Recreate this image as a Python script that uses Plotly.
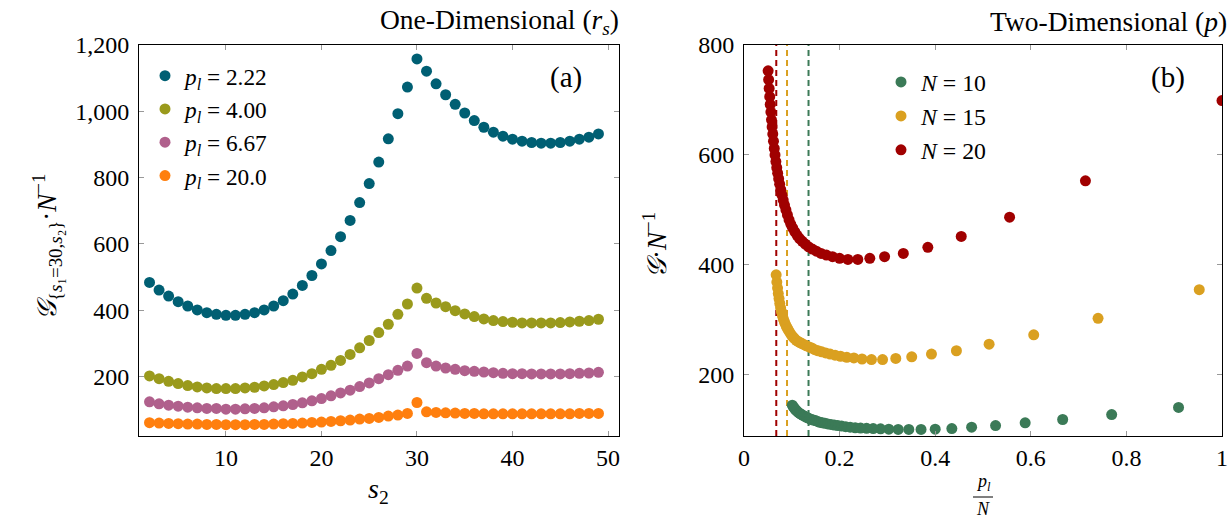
import plotly.graph_objects as go

W, H = 1232, 519
FONT = "Liberation Serif"

# ---------------- Panel (a) data ----------------
s2 = [2, 3, 4, 5, 6, 7, 8, 9, 10, 11, 12, 13, 14, 15, 16, 17, 18, 19, 20, 21, 22, 23, 24, 25,
      26, 27, 28, 29, 30, 31, 32, 33, 34, 35, 36, 37, 38, 39, 40, 41, 42, 43, 44, 45, 46, 47, 48, 49]

g_p222 = [484, 461, 443, 426, 413, 401, 393, 388, 385, 385, 388, 393, 401, 413, 429, 449, 475, 505,
          540, 580, 622, 671, 725, 782, 847, 917, 993, 1073, 1158, 1121, 1083, 1050, 1021, 995, 972,
          952, 937, 925, 916, 910, 906, 904, 904, 906, 910, 916, 922, 932]
g_p400 = [202, 194, 186, 179, 173, 169, 166, 164, 164, 164, 166, 168, 172, 176, 182, 189, 199, 209,
          222, 234, 249, 267, 287, 309, 333, 358, 388, 419, 467, 436, 422, 411, 399, 389, 381, 374,
          369, 366, 364, 362, 362, 362, 362, 363, 365, 367, 369, 373]
g_p667 = [124, 118, 114, 111, 108, 106, 104, 104, 102, 102, 103, 104, 106, 109, 112, 116, 121, 127,
          134, 142, 151, 159, 170, 181, 194, 206, 219, 232, 270, 242, 232, 226, 222, 218, 216, 214,
          212, 210, 209, 209, 208, 208, 208, 208, 209, 210, 211, 213]
g_p200 = [61, 60, 59, 58, 57, 57, 56, 56, 55, 55, 55, 56, 56, 57, 58, 59, 60, 62, 63, 65, 67, 69,
          72, 74, 77, 81, 84, 89, 122, 94, 92, 91, 90, 89, 89, 88, 88, 88, 88, 88, 88, 88, 88, 88,
          88, 89, 89, 89]

series_a = [
    ("<i>p<sub>l</sub></i> = 2.22", g_p222, "#005f73"),
    ("<i>p<sub>l</sub></i> = 4.00", g_p400, "#9a9a1c"),
    ("<i>p<sub>l</sub></i> = 6.67", g_p667, "#b0608c"),
    ("<i>p<sub>l</sub></i> = 20.0", g_p200, "#ff7f0e"),
]

# ---------------- Panel (b) data ----------------
x_n10 = [0.9091, 0.7692, 0.6667, 0.5882, 0.5263, 0.4762, 0.4348, 0.4000, 0.3704, 0.3448, 0.3226,
         0.3030, 0.2857, 0.2703, 0.2564, 0.2439, 0.2326, 0.2222, 0.2128, 0.2041, 0.1961, 0.1887,
         0.1818, 0.1754, 0.1695, 0.1639, 0.1587, 0.1538, 0.1493, 0.1449, 0.1408, 0.1370, 0.1333,
         0.1299, 0.1266, 0.1235, 0.1205, 0.1176, 0.1149, 0.1124, 0.1099, 0.1075, 0.1053, 0.1031,
         0.1010]
y_n10 = [141, 128, 119, 113, 108, 105, 102.5, 101.5, 101, 101, 101, 101.5, 102, 102.5, 103, 103.5,
         104, 105, 106, 107, 108, 109, 110, 111, 112, 113, 114, 115.5, 117, 118, 119, 120.5, 122,
         123.5, 125, 126.5, 128, 129.5, 131, 133, 135, 137, 139.5, 142, 145]

x_n15 = [0.9524, 0.7407, 0.6061, 0.5128, 0.4444, 0.3922, 0.3509, 0.3175, 0.2899, 0.2667, 0.2469,
         0.2299, 0.2151, 0.2020, 0.1905, 0.1802, 0.1709, 0.1626, 0.1550, 0.1481, 0.1418, 0.1361,
         0.1307, 0.1258, 0.1212, 0.1170, 0.1130, 0.1093, 0.1058, 0.1026, 0.0995, 0.0966, 0.0939,
         0.0913, 0.0889, 0.0866, 0.0844, 0.0823, 0.0803, 0.0784, 0.0766, 0.0749, 0.0733, 0.0717,
         0.0702, 0.0687, 0.0673]
y_n15 = [355, 303, 273, 256, 244, 238, 233, 230, 228, 228, 229, 231, 232, 234, 236, 238, 240, 242,
         244, 246, 249, 251, 253, 255, 257, 259, 261, 263, 266, 269, 272, 276, 280, 284, 288, 292,
         297, 302, 308, 315, 322, 330, 339, 348, 358, 369, 382]

x_n20 = [1.0000, 0.7143, 0.5556, 0.4545, 0.3846, 0.3333, 0.2941, 0.2632, 0.2381, 0.2174, 0.2000,
         0.1852, 0.1724, 0.1613, 0.1515, 0.1429, 0.1351, 0.1282, 0.1220, 0.1163, 0.1111, 0.1064,
         0.1020, 0.0980, 0.0943, 0.0909, 0.0877, 0.0847, 0.0820, 0.0794, 0.0769, 0.0746, 0.0725,
         0.0704, 0.0685, 0.0667, 0.0649, 0.0633, 0.0617, 0.0602, 0.0588, 0.0575, 0.0562, 0.0549,
         0.0538, 0.0526, 0.0515, 0.0505]
y_n20 = [699, 553, 487, 452, 432, 421, 415, 412, 410, 410, 412, 415, 418, 421, 425, 429, 433, 438,
         443, 448, 454, 460, 467, 474, 482, 491, 500, 509, 518, 527, 537, 547, 557, 567, 577, 588,
         600, 612, 625, 638, 651, 664, 678, 692, 706, 721, 737, 753]

crit_x = [0.135, 0.09, 0.0675]  # dashed reference lines for N = 10, 15, 20

series_b = [
    ("<i>N</i> = 10", x_n10, y_n10, "#3b7a57"),
    ("<i>N</i> = 15", x_n15, y_n15, "#daa020"),
    ("<i>N</i> = 20", x_n20, y_n20, "#a00000"),
]


def px(x):
    return x / W


def py(y):
    return 1 - y / H


fig = go.Figure()

for name, vals, col in series_a:
    fig.add_trace(go.Scatter(x=s2, y=vals, mode="markers", name=name,
                             marker=dict(size=11, color=col), xaxis="x", yaxis="y",
                             legend="legend"))

for name, xs, ys, col in series_b:
    fig.add_trace(go.Scatter(x=xs, y=ys, mode="markers", name=name,
                             marker=dict(size=11, color=col), xaxis="x2", yaxis="y2",
                             legend="legend2"))

for cx, (_, _, _, col) in zip(crit_x, series_b):
    fig.add_shape(type="line", xref="x2", yref="y2 domain", x0=cx, x1=cx, y0=0, y1=1,
                  line=dict(color=col, width=2, dash="6px,4px"), layer="below")

axis_common = dict(showline=True, linecolor="black", linewidth=1, mirror="all",
                   ticks="inside", ticklen=5, tickcolor="#999999", showgrid=False,
                   zeroline=False, automargin=False,
                   tickfont=dict(family=FONT, size=24, color="black"))

y_dom = [py(436), py(45)]
fig.update_layout(
    width=W, height=H, margin=dict(l=0, r=0, t=0, b=0, pad=0, autoexpand=False),
    plot_bgcolor="white", paper_bgcolor="white",
    font=dict(family=FONT, color="black"),
    xaxis=dict(domain=[px(139), px(619)], range=[0.9, 51.15],
               tickvals=[10, 20, 30, 40, 50], anchor="y", **axis_common),
    yaxis=dict(domain=y_dom, range=[21, 1200], tickvals=[200, 400, 600, 800, 1000, 1200],
               tickformat=",d", anchor="x", ticklabelstandoff=4, **axis_common),
    xaxis2=dict(domain=[px(744), px(1222)], range=[0, 1],
                tickvals=[0, 0.2, 0.4, 0.6, 0.8, 1], ticktext=["0", "0.2", "0.4", "0.6", "0.8", "1"],
                anchor="y2", **axis_common),
    yaxis2=dict(domain=y_dom, range=[89, 800], tickvals=[200, 400, 600, 800],
                anchor="x2", ticklabelstandoff=4, **axis_common),
    legend=dict(x=px(145), y=py(54), xanchor="left", yanchor="top",
                bgcolor="rgba(0,0,0,0)", font=dict(family=FONT, size=23.3),
                itemwidth=30, tracegroupgap=0),
    legend2=dict(x=px(881), y=py(60), xanchor="left", yanchor="top",
                 bgcolor="rgba(0,0,0,0)", font=dict(family=FONT, size=23.8),
                 itemwidth=30, tracegroupgap=0),
)

ann = [
    dict(text="One-Dimensional (<i>r<sub>s</sub></i>)", x=px(620), y=py(21), xanchor="right",
         yanchor="middle", size=27.5),
    dict(text="Two-Dimensional (<i>p</i>)", x=px(1228), y=py(21), xanchor="right",
         yanchor="middle", size=27.5),
    dict(text="(a)", x=px(566), y=py(77), xanchor="center", yanchor="middle", size=29),
    dict(text="(b)", x=px(1168), y=py(77), xanchor="center", yanchor="middle", size=29),
    dict(text="<i>s</i><sub>2</sub>", x=px(378), y=py(490), xanchor="center", yanchor="middle",
         size=28),
    dict(text="<i>p<sub>l</sub></i>", x=px(983), y=py(495), xanchor="center", yanchor="bottom",
         size=18),
    dict(text="<i>N</i>", x=px(983), y=py(498), xanchor="center", yanchor="top", size=18),
]
for a in ann:
    fig.add_annotation(text=a["text"], x=a["x"], y=a["y"], xref="paper", yref="paper",
                       xanchor=a["xanchor"], yanchor=a["yanchor"], showarrow=False,
                       borderpad=0,
                       font=dict(family=FONT, size=a["size"], color="black"))

fig.add_annotation(text="<i>𝒢</i><sub>{<i>s</i>₁=30,<i>s</i>₂}</sub>·<i>N</i><sup>−1</sup>",
                   x=px(26), y=py(247), xref="paper", yref="paper", textangle=-90,
                   showarrow=False, font=dict(family=FONT, size=27, color="black"))
fig.add_annotation(text="<i>𝒢</i>·<i>N</i><sup>−1</sup>",
                   x=px(655), y=py(245), xref="paper", yref="paper", textangle=-90,
                   showarrow=False, font=dict(family=FONT, size=27, color="black"))

fig.add_shape(type="line", xref="paper", yref="paper", x0=px(973), x1=px(993),
              y0=py(497), y1=py(497), line=dict(color="black", width=1))

fig.write_html("out.html", config={"displayModeBar": False},
               post_script="document.body.style.margin='0';document.body.style.overflow='hidden';")
